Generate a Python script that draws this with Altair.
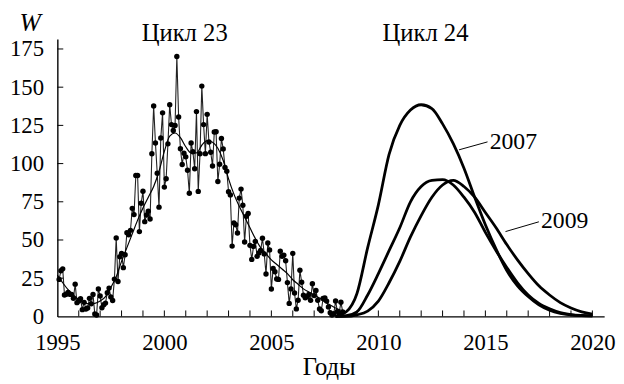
import altair as alt
import pandas as pd

# Monthly sunspot numbers W, 1995 .. Apr 2008
w1995 = [24.2, 29.9, 31.1, 14.0, 14.5, 15.6, 14.5, 14.3, 11.8, 21.1, 9.0, 10.0]
w1996 = [11.5, 4.4, 9.2, 4.8, 5.5, 11.8, 8.2, 14.4, 1.6, 0.9, 17.9, 13.3]
w1997 = [5.7, 7.6, 8.7, 15.5, 18.5, 12.7, 10.4, 24.4, 51.3, 22.8, 39.0, 41.2]
w1998 = [31.9, 40.3, 54.8, 53.4, 56.3, 70.7, 66.6, 92.2, 92.2, 55.5, 74.0, 81.9]
w1999 = [62.0, 66.3, 68.8, 63.7, 106.4, 137.7, 113.5, 93.7, 71.5, 116.7, 133.2, 84.6]
w2000 = [90.1, 112.9, 138.5, 125.5, 121.6, 124.9, 170.1, 130.5, 109.7, 99.4, 106.8, 104.4]
w2001 = [95.6, 80.6, 113.5, 107.7, 96.6, 134.0, 81.8, 106.4, 150.7, 125.5, 106.5, 132.2]
w2002 = [114.1, 107.4, 98.4, 120.7, 120.8, 88.3, 99.6, 116.4, 109.6, 97.5, 95.0, 81.6]
w2003 = [79.5, 46.0, 61.1, 60.0, 54.6, 77.4, 83.3, 72.7, 48.7, 65.5, 67.3, 46.5]
w2004 = [37.3, 45.8, 49.1, 39.3, 41.5, 43.2, 51.1, 40.9, 27.7, 48.0, 43.5, 17.9]
w2005 = [31.3, 29.2, 24.5, 24.2, 42.7, 39.3, 40.1, 36.4, 22.1, 8.5, 18.0, 41.2]
w2006 = [15.3, 4.9, 10.6, 30.2, 22.3, 13.9, 12.2, 12.9, 14.4, 10.5, 21.4, 13.6]
w2007 = [16.9, 10.6, 4.8, 3.7, 11.7, 12.0, 10.0, 6.2, 2.4, 0.9, 1.7, 10.1]
w2008 = [3.3, 2.1, 9.3, 2.9]

monthly = (w1995 + w1996 + w1997 + w1998 + w1999 + w2000 + w2001 + w2002
           + w2003 + w2004 + w2005 + w2006 + w2007 + w2008)
monthly_t = [1995 + (i + 1) / 12 for i in range(len(monthly))]

# Smoothed W (quarterly)
smooth_t = [1995.0, 1995.25, 1995.5, 1995.75, 1996.0, 1996.25, 1996.5, 1996.75,
            1997.0, 1997.25, 1997.5, 1997.75, 1998.0, 1998.25, 1998.5, 1998.75,
            1999.0, 1999.25, 1999.5, 1999.75, 2000.0, 2000.25, 2000.5, 2000.75,
            2001.0, 2001.25, 2001.5, 2001.75, 2002.0, 2002.25, 2002.5, 2002.75,
            2003.0, 2003.25, 2003.5, 2003.75, 2004.0, 2004.25, 2004.5, 2004.75,
            2005.0, 2005.25, 2005.5, 2005.75, 2006.0, 2006.25, 2006.5, 2006.75,
            2007.0, 2007.25, 2007.5, 2007.75, 2008.0, 2008.25, 2008.5]
smooth_w = [27, 22, 17.5, 14, 11, 9, 8.2, 8.5,
            10, 13, 19, 26, 36, 45, 54, 63,
            71, 78, 85, 95, 108, 118, 120, 117,
            111, 107, 107, 112, 115, 114, 110, 102,
            90, 80, 72, 65, 58, 51, 45, 41,
            37, 34, 31, 28, 24, 21, 18, 16,
            14, 12, 9.5, 7.5, 5.5, 4, 3]

# Forecasts of cycle 24
fc_t = [2008.0, 2008.5, 2009.0, 2009.5, 2010.0, 2010.5, 2011.0, 2011.5, 2012.0,
        2012.5, 2013.0, 2013.5, 2014.0, 2014.5, 2015.0, 2015.5, 2016.0, 2016.5,
        2017.0, 2017.5, 2018.0, 2018.5, 2019.0, 2019.5, 2020.0]
fc_2007 = [0, 3, 15, 45, 73, 106, 125, 135, 138.5, 136, 126, 113, 97, 78, 60,
           44, 30, 20, 13, 7.5, 4, 2, 1, 0.5, 0.3]
fc_2008 = [0, 0.5, 3, 14, 28, 43, 58, 75, 85, 89, 89.5, 86, 78, 68, 55,
           43, 32, 22, 14, 8.5, 5, 2.5, 1.2, 0.6, 0.3]
fc_2009 = [0, 0, 1, 3.5, 10, 22, 36, 52, 66, 78, 86, 89, 85, 78, 68,
           58, 47, 37, 28, 20, 14, 9, 5.5, 3, 1.5]

# Annotations
cycle_labels = ["Цикл 23", "Цикл 24"]
cycle_t = [2000.95, 2012.2]
cycle_w = [180, 180]

fc_labels = ["2007", "2009"]
fc_label_t = [2015.2, 2017.6]
fc_label_w = [109.7, 58]
lead_t = [2013.77, 2015.94]
lead_w = [109.0, 55.5]
lead_t2 = [2015.1, 2017.5]
lead_w2 = [114.2, 61.9]

x_ticks = list(range(1996, 2021))
y_ticks = [25, 50, 75, 100, 125, 150, 175]
x_labels = [1995, 2000, 2005, 2010, 2015, 2020]
y_labels = [0, 25, 50, 75, 100, 125, 150, 175]

FONT = "Liberation Serif"

df_m = pd.DataFrame({"x": monthly_t, "y": monthly})
df_s = pd.DataFrame({"x": smooth_t, "y": smooth_w})
df_f = pd.concat([
    pd.DataFrame({"x": fc_t, "y": fc_2007, "s": "2007"}),
    pd.DataFrame({"x": fc_t, "y": fc_2008, "s": "2008"}),
    pd.DataFrame({"x": fc_t, "y": fc_2009, "s": "2009"}),
])
df_c = pd.DataFrame({"x": cycle_t, "y": cycle_w, "t": cycle_labels})
df_fl = pd.DataFrame({"x": fc_label_t, "y": fc_label_w, "t": fc_labels})
df_lead = pd.DataFrame({"x": lead_t, "y": lead_w, "x2": lead_t2, "y2": lead_w2})
df_xt = pd.DataFrame({"x": x_ticks})
df_yt = pd.DataFrame({"y": y_ticks})

xscale = alt.Scale(domain=[1995, 2020.55], nice=False, zero=False)
yscale = alt.Scale(domain=[0, 181.5], nice=False)

X = alt.X("x:Q", scale=xscale, axis=alt.Axis(
    values=x_labels, format="d", ticks=False, tickSize=0, grid=False,
    labelBaseline="alphabetic", labelPadding=34, labelFlush=False,
    title="Годы", titleX=275, titleY=59, titleBaseline="alphabetic",
    titleAlign="center", titleFontSize=25))
Y = alt.Y("y:Q", scale=yscale, axis=alt.Axis(
    values=y_labels, ticks=False, tickSize=0, grid=False, labelPadding=14,
    title="W", titleAngle=0, titleX=-28, titleY=-9, titleFontStyle="italic",
    titleAlign="center", titleBaseline="alphabetic", titleFontSize=26))

base_line = alt.Chart(df_m).mark_line(color="#222222", strokeWidth=1.1).encode(x=X, y=Y)
dots = alt.Chart(df_m).mark_circle(color="black", size=30, opacity=1).encode(x=X, y=Y)
smooth = alt.Chart(df_s).mark_line(color="black", strokeWidth=1.2, interpolate="monotone").encode(x=X, y=Y)
fcs = alt.Chart(df_f).mark_line(color="black", strokeWidth=2.8, interpolate="monotone").encode(
    x=X, y=Y, detail="s:N")
cyc = alt.Chart(df_c).mark_text(font=FONT, fontSize=25, color="black", align="center",
                                baseline="alphabetic").encode(x=X, y=Y, text="t:N")
fl = alt.Chart(df_fl).mark_text(font=FONT, fontSize=24, color="black", align="left",
                                baseline="alphabetic").encode(x=X, y=Y, text="t:N")
lead = alt.Chart(df_lead).mark_rule(color="black", strokeWidth=1).encode(
    x=X, y=Y, x2="x2:Q", y2="y2:Q")
xt = alt.Chart(df_xt).mark_rule(color="black", strokeWidth=1).encode(
    x=X, y=alt.value(281), y2=alt.value(275))
yt = alt.Chart(df_yt).mark_rule(color="black", strokeWidth=1).encode(
    y=Y, x=alt.value(0), x2=alt.value(6))

chart = alt.layer(base_line, smooth, dots, fcs, lead, xt, yt, cyc, fl).properties(
    width=554, height=281,
    autosize=alt.AutoSizeParams(type="none"),
    padding={"left": 50, "top": 29, "right": 12, "bottom": 62},
).configure_view(stroke=None).configure_axis(
    labelFont=FONT, labelFontSize=23, labelColor="black",
    titleFont=FONT, titleColor="black", titleFontWeight="normal",
    domainColor="black", domainWidth=1.4,
)

chart.save("out.html", embed_options={"renderer": "svg", "actions": False})
